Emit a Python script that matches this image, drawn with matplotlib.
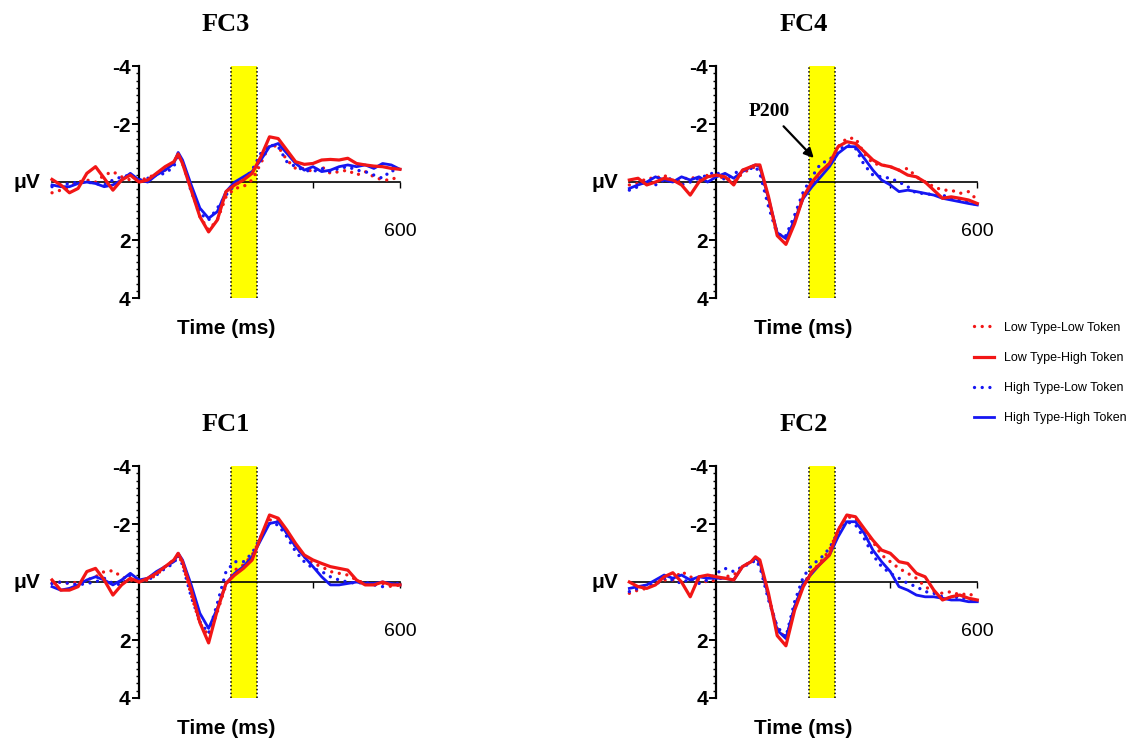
import matplotlib
matplotlib.use("Agg")
import matplotlib.pyplot as plt
from matplotlib.ticker import MultipleLocator, FixedLocator, FixedFormatter
from matplotlib.lines import Line2D

# ------------------------------------------------------------------
# data, time in ms, amplitude in microvolts
# ------------------------------------------------------------------
times = [-200, -180, -160, -140, -120, -100, -80, -60, -40, -20, 0, 20, 40, 60, 80, 90, 100,
         120, 140, 160, 180, 200, 220, 240, 260, 280, 300, 320, 340, 360, 380, 400,
         420, 440, 460, 480, 500, 520, 540, 560, 580, 600]

series_labels = ["Low Type-Low Token", "Low Type-High Token",
                 "High Type-Low Token", "High Type-High Token"]

fc3_low_low = [0.37, 0.28, 0.16, 0, -0.07, 0, -0.24, -0.36, -0.18, -0.07, -0.07, -0.13, -0.3, -0.41, -0.7, -0.93, -0.64,
               0.22, 1.2, 1.65, 1.31, 0.51, 0.22, 0.16, -0.07, -0.64, -1.28, -1.22, -0.76, -0.47, -0.47, -0.36,
               -0.53, -0.3, -0.36, -0.41, -0.24, -0.36, -0.18, -0.07, -0.07, -0.24]
fc3_low_high = [-0.09, 0.1, 0.37, 0.22, -0.3, -0.53, -0.13, 0.28, -0.07, -0.24, 0, -0.07, -0.3, -0.53, -0.7, -0.97, -0.64,
                0.28, 1.2, 1.72, 1.31, 0.33, 0.1, -0.07, -0.3, -0.87, -1.56, -1.5, -1.1, -0.7, -0.61, -0.64,
                -0.76, -0.78, -0.76, -0.82, -0.64, -0.59, -0.55, -0.53, -0.47, -0.44]
fc3_high_low = [0.16, 0.1, 0.05, 0, 0, 0.05, 0.1, -0.07, -0.18, -0.24, -0.07, -0.13, -0.24, -0.3, -0.53, -0.93, -0.7,
                0.33, 1.08, 1.31, 0.9, 0.45, 0.1, -0.07, -0.41, -0.99, -1.28, -1.22, -0.7, -0.53, -0.41, -0.36,
                -0.47, -0.36, -0.47, -0.53, -0.41, -0.36, -0.24, -0.13, -0.41, -0.3]
fc3_high_high = [0.1, 0.16, 0.16, 0.05, 0, 0.05, 0.16, 0.1, -0.07, -0.3, -0.07, 0, -0.24, -0.41, -0.64, -1.02, -0.76,
                 0.1, 0.9, 1.25, 1.02, 0.33, 0, -0.18, -0.36, -0.76, -1.22, -1.33, -0.99, -0.64, -0.41, -0.53,
                 -0.36, -0.41, -0.53, -0.59, -0.53, -0.59, -0.47, -0.64, -0.59, -0.44]

fc4_low_low = [0.1, 0.05, -0.13, -0.13, -0.24, 0, -0.07, -0.18, -0.07, -0.24, -0.13, -0.18, 0, -0.3, -0.47, -0.53, -0.47,
               0.68, 1.75, 1.95, 1.31, 0.45, 0.1, -0.36, -0.64, -1.22, -1.51, -1.51, -0.99, -0.64, -0.59, -0.53,
               -0.41, -0.47, -0.18, 0, 0.16, 0.28, 0.28, 0.39, 0.33, 0.62]
fc4_low_high = [-0.07, -0.13, 0.1, 0, -0.13, -0.07, 0.1, 0.45, 0, -0.18, -0.24, -0.18, 0.1, -0.41, -0.53, -0.59, -0.59,
                0.51, 1.85, 2.15, 1.43, 0.51, 0, -0.36, -0.64, -1.22, -1.39, -1.33, -1.05, -0.76, -0.59, -0.53,
                -0.41, -0.24, -0.18, 0, 0.28, 0.56, 0.51, 0.56, 0.62, 0.74]
fc4_high_low = [0.28, 0.16, -0.07, 0.1, -0.07, -0.13, 0.1, 0, -0.13, -0.24, -0.36, -0.07, -0.3, -0.41, -0.47, -0.53, -0.3,
                0.85, 1.8, 1.85, 1.14, 0.33, -0.18, -0.64, -0.76, -1.1, -1.28, -1.16, -0.59, -0.24, -0.18, -0.13,
                0, 0.16, 0.39, 0.39, 0.45, 0.45, 0.56, 0.62, 0.68, 0.79]
fc4_high_high = [0.22, 0.1, 0, -0.18, -0.07, 0, -0.18, -0.07, -0.18, 0, -0.18, -0.3, -0.13, -0.36, -0.53, -0.59, -0.53,
                 0.56, 1.75, 1.95, 1.31, 0.56, 0.16, -0.18, -0.53, -0.99, -1.22, -1.22, -0.82, -0.41, -0.07, 0.1,
                 0.33, 0.28, 0.33, 0.39, 0.45, 0.56, 0.62, 0.68, 0.74, 0.79]

fc1_low_low = [0.05, 0, 0.05, 0, -0.07, -0.18, -0.36, -0.39, -0.18, -0.07, 0, -0.07, -0.24, -0.53, -0.76, -0.93, -0.64,
               0.45, 1.43, 1.85, 1.03, 0.1, -0.41, -0.59, -0.93, -1.51, -2.14, -2.14, -1.68, -1.22, -0.87, -0.64,
               -0.53, -0.36, -0.3, -0.24, -0.07, 0.05, 0.1, 0.05, 0.16, 0.1]
fc1_low_high = [-0.07, 0.28, 0.28, 0.16, -0.36, -0.47, -0.07, 0.45, 0.1, -0.13, 0, -0.13, -0.3, -0.53, -0.76, -0.99, -0.7,
                0.28, 1.4, 2.1, 0.97, 0.05, -0.24, -0.47, -0.76, -1.56, -2.31, -2.2, -1.79, -1.33, -0.93, -0.76,
                -0.64, -0.53, -0.47, -0.41, -0.07, 0.1, 0.1, 0, 0.1, 0.1]
fc1_high_low = [0.05, 0, 0.05, 0.1, 0.05, 0, -0.13, 0.05, 0.1, -0.24, -0.07, -0.07, -0.24, -0.47, -0.64, -0.93, -0.59,
                0.51, 1.37, 1.77, 0.74, -0.36, -0.7, -0.7, -0.99, -1.56, -2.02, -1.97, -1.56, -1.05, -0.7, -0.47,
                -0.36, -0.18, -0.07, 0, 0.05, 0, 0.1, 0.16, 0.05, 0.05]
fc1_high_high = [0.16, 0.28, 0.22, 0.1, -0.07, -0.18, -0.07, 0.1, -0.07, -0.3, -0.07, -0.13, -0.36, -0.53, -0.7, -0.99, -0.76,
                 0.1, 1.08, 1.6, 0.91, 0.05, -0.3, -0.53, -0.87, -1.45, -2.02, -2.08, -1.68, -1.22, -0.87, -0.53,
                 -0.18, 0.1, 0.1, 0.05, 0, 0.05, 0.05, 0, 0.05, 0.1]

fc2_low_low = [0.39, 0.28, 0.22, 0.05, -0.07, -0.07, -0.36, -0.18, -0.07, 0, -0.07, -0.18, -0.24, -0.53, -0.7, -0.82, -0.64,
               0.51, 1.6, 1.95, 0.85, 0.05, -0.36, -0.7, -1.1, -1.79, -2.25, -2.2, -1.79, -1.39, -0.93, -0.7,
               -0.47, -0.3, -0.13, 0.16, 0.33, 0.39, 0.33, 0.45, 0.39, 0.56]
fc2_low_high = [0, 0.16, 0.22, 0.1, -0.18, -0.32, 0, 0.51, -0.18, -0.24, -0.18, -0.13, -0.07, -0.53, -0.7, -0.87, -0.76,
                0.4, 1.85, 2.2, 0.97, 0.16, -0.36, -0.64, -0.93, -1.79, -2.31, -2.25, -1.84, -1.44, -1.1, -0.99,
                -0.7, -0.64, -0.3, -0.18, 0.28, 0.62, 0.51, 0.45, 0.56, 0.62]
fc2_high_low = [0.33, 0.22, 0.1, 0.1, -0.13, -0.07, 0.05, -0.13, 0.05, -0.07, -0.3, -0.47, -0.36, -0.53, -0.64, -0.76, -0.53,
                0.62, 1.54, 1.9, 0.68, -0.18, -0.59, -0.82, -1.16, -1.74, -2.08, -1.97, -1.5, -0.93, -0.53, -0.3,
                -0.13, 0.05, 0.16, 0.33, 0.39, 0.51, 0.56, 0.51, 0.62, 0.68]
fc2_high_high = [0.22, 0.16, 0.1, -0.07, -0.24, -0.13, -0.24, -0.07, -0.18, -0.13, -0.13, -0.13, -0.07, -0.53, -0.7, -0.82, -0.7,
                 0.51, 1.66, 1.95, 0.85, 0.05, -0.3, -0.64, -0.93, -1.56, -2.08, -2.08, -1.68, -1.1, -0.7, -0.36,
                 0.16, 0.28, 0.45, 0.51, 0.51, 0.56, 0.62, 0.62, 0.68, 0.68]

window = (212, 272)   # shaded P200 window, ms

# ------------------------------------------------------------------
# figure
# ------------------------------------------------------------------
RED = "#f21616"
BLUE = "#1616f2"
SANS = "Liberation Sans"
SERIF = "Liberation Serif"

fig = plt.figure(figsize=(11.36, 7.49), dpi=100)

# (name, [ll, lh, hl, hh], left, bottom) in figure fractions
panels = [
    ("FC3", [fc3_low_low, fc3_low_high, fc3_high_low, fc3_high_high], 0.0458, 0.6021),
    ("FC4", [fc4_low_low, fc4_low_high, fc4_high_low, fc4_high_high], 0.5540, 0.6021),
    ("FC1", [fc1_low_low, fc1_low_high, fc1_high_low, fc1_high_high], 0.0458, 0.0681),
    ("FC2", [fc2_low_low, fc2_low_high, fc2_high_low, fc2_high_high], 0.5540, 0.0681),
]

# dotted = round dots, solid = plain lines
styles = [
    dict(color=RED, ls=(0, (0.01, 2.3)), lw=2.4, dash_capstyle="round"),
    dict(color=RED, ls="-", lw=2.3),
    dict(color=BLUE, ls=(0, (0.01, 2.3)), lw=2.4, dash_capstyle="round"),
    dict(color=BLUE, ls="-", lw=2.0),
]
draw_order = [0, 2, 3, 1]

for name, data, left, bottom in panels:
    ax = fig.add_axes([left, bottom, 0.3063, 0.3097])
    ax.set_xlim(-200, 600)
    ax.set_ylim(4, -4)

    # shaded window with dotted edges
    ax.axvspan(window[0], window[1], color="#ffff00", zorder=0, lw=0)
    for edge in window:
        ax.axvline(edge, color="black", ls=(0, (1, 1.5)), lw=1.1, zorder=1)

    for i in draw_order:
        ax.plot(times, data[i], zorder=3, clip_on=False, **styles[i])

    # axes drawn through the origin
    ax.spines["top"].set_visible(False)
    ax.spines["right"].set_visible(False)
    ax.spines["left"].set_position(("data", 0))
    ax.spines["left"].set_linewidth(1.6)
    ax.spines["bottom"].set_position(("data", 0))
    ax.spines["bottom"].set_bounds(-200, 600)
    ax.spines["bottom"].set_linewidth(1.2)

    ax.yaxis.set_major_locator(FixedLocator([-4, -2, 0, 2, 4]))
    ax.yaxis.set_major_formatter(FixedFormatter(["-4", "-2", "", "2", "4"]))
    ax.yaxis.set_minor_locator(MultipleLocator(0.25))
    ax.tick_params(axis="y", which="major", length=5, width=1.4, pad=1, labelsize=15)
    ax.tick_params(axis="y", which="minor", length=2.5, width=1.0)
    for lab in ax.get_yticklabels():
        lab.set_fontweight("bold")
        lab.set_family(SANS)

    ax.xaxis.set_major_locator(FixedLocator([400, 600]))
    ax.xaxis.set_major_formatter(FixedFormatter(["", ""]))
    ax.tick_params(axis="x", which="major", length=4, width=1.0)

    ax.text(-288, 0, "μV", ha="left", va="center", fontsize=15, fontweight="bold", family=SANS, clip_on=False)
    ax.text(600, 1.69, "600", ha="center", va="center", fontsize=14, family=SANS, clip_on=False)
    ax.text(0.5, -0.13, "Time (ms)", transform=ax.transAxes, ha="center", va="center",
            fontsize=15, fontweight="bold", family=SANS)
    ax.text(0.5, 1.18, name, transform=ax.transAxes, ha="center", va="center",
            fontsize=19, fontweight="bold", family=SERIF)

    if name == "FC4":
        ax.annotate("P200", xy=(224, -0.83), xytext=(121, -2.45), ha="center", va="center",
                    fontsize=14, fontweight="bold", family=SERIF,
                    arrowprops=dict(arrowstyle="-|>", color="black", lw=1.6, mutation_scale=14,
                                    shrinkA=4, shrinkB=0))

# legend at the right
handles = [Line2D([], [], **styles[i]) for i in range(4)]
fig.legend(handles, series_labels, loc="center left", bbox_to_anchor=(963 / 1136, 1 - 373 / 749),
           frameon=False, prop={"family": SANS, "size": 9}, handlelength=1.6,
           handletextpad=0.8, labelspacing=1.45)

fig.savefig("out.png", dpi=100)
